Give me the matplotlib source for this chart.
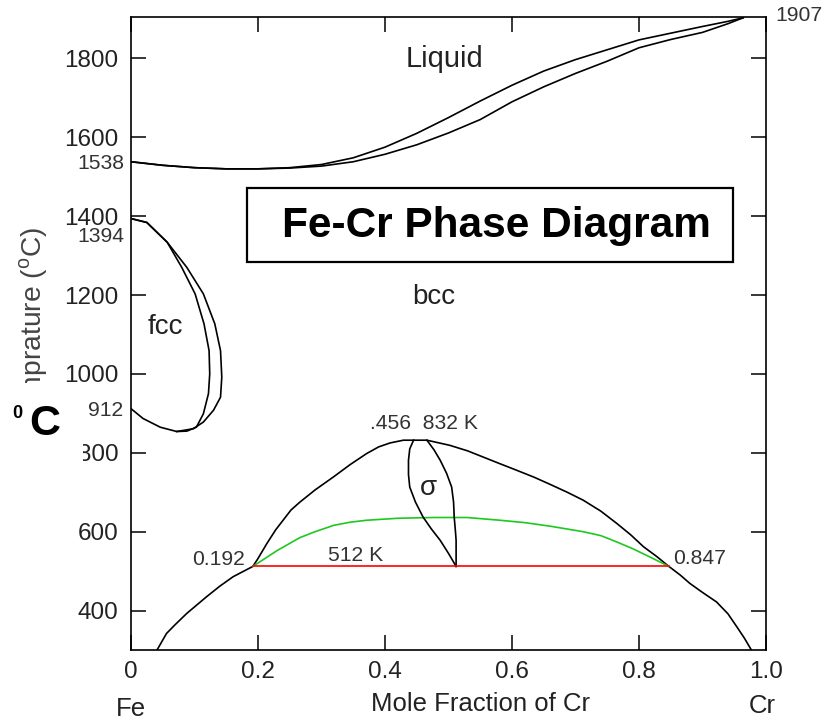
import matplotlib
matplotlib.use('Agg')
import matplotlib.pyplot as plt
from matplotlib.patches import Rectangle

plt.rcParams['font.family'] = ['Liberation Sans', 'DejaVu Sans']
plt.rcParams['mathtext.fontset'] = 'custom'
plt.rcParams['mathtext.rm'] = 'Liberation Sans'
plt.rcParams['mathtext.bf'] = 'Liberation Sans:bold'

# liquidus / solidus (upper region)
liq_x = [0, 0.05, 0.1, 0.15, 0.2, 0.25, 0.3, 0.35, 0.4, 0.45, 0.5, 0.55, 0.6, 0.65,
         0.7, 0.75, 0.8, 0.85, 0.9, 0.94, 0.964]
liq_T = [1538, 1529, 1523, 1520, 1520, 1523, 1531, 1548, 1575, 1610, 1650, 1692, 1732, 1768,
         1797, 1822, 1847, 1864, 1881, 1894, 1903]
sol_T = [1538, 1529, 1523, 1520, 1520, 1522, 1527, 1538, 1557, 1581, 1611, 1645, 1690, 1728,
         1762, 1793, 1827, 1848, 1866, 1888, 1903]

# gamma loop, outer and inner boundary
fcc_out_x = [0, 0.025, 0.057, 0.088, 0.114, 0.132, 0.141, 0.143, 0.141, 0.130, 0.114, 0.098, 0.072, 0.046, 0.019, 0]
fcc_out_T = [1394, 1384, 1334, 1270, 1203, 1127, 1059, 992, 941, 908, 878, 861, 854, 865, 887, 912]
fcc_in_x = [0, 0.025, 0.057, 0.080, 0.101, 0.115, 0.123, 0.124, 0.122, 0.114, 0.103, 0.088, 0.072]
fcc_in_T = [1394, 1384, 1334, 1270, 1203, 1127, 1059, 1000, 950, 899, 865, 855, 854]

# bcc / sigma dome
dome_x = [0.041, 0.056, 0.07, 0.088, 0.119, 0.14, 0.161, 0.192, 0.2, 0.214, 0.228, 0.24, 0.252,
          0.266, 0.29, 0.319, 0.345, 0.371, 0.39, 0.408, 0.429, 0.466, 0.502, 0.53, 0.555,
          0.58, 0.607, 0.635, 0.66, 0.687, 0.712, 0.74, 0.765, 0.787, 0.807, 0.828, 0.847,
          0.865, 0.88, 0.9, 0.922, 0.94, 0.954, 0.966, 0.977]
dome_T = [300, 342, 365, 393, 435, 462, 486, 512, 532, 570, 605, 630, 655,
          675, 706, 739, 770, 798, 815, 825, 832, 832, 819, 805, 789,
          773, 756, 738, 720, 700, 680, 652, 621, 592, 562, 537, 512,
          490, 469, 446, 422, 392, 359, 330, 300]

# green boundary
green_x = [0.192, 0.23, 0.266, 0.29, 0.319, 0.345, 0.371, 0.42, 0.476, 0.529, 0.581, 0.62,
           0.66, 0.712, 0.74, 0.765, 0.79, 0.817, 0.847]
green_T = [512, 552, 585, 600, 616, 624, 629, 634, 636, 636, 629, 623,
           614, 600, 590, 574, 557, 536, 512]

# sigma lens
sig_l_x = [0.445, 0.439, 0.437, 0.437, 0.439, 0.448, 0.46, 0.473, 0.487, 0.5, 0.512]
sig_l_T = [832, 810, 781, 745, 713, 675, 637, 607, 578, 545, 512]
sig_r_x = [0.466, 0.477, 0.487, 0.497, 0.505, 0.508, 0.509, 0.511, 0.512, 0.512]
sig_r_T = [832, 808, 781, 748, 713, 675, 637, 600, 578, 512]

eutectoid_x = [0.192, 0.847]
eutectoid_T = [512, 512]

xticks = [0, 0.2, 0.4, 0.6, 0.8, 1.0]
xtick_labels = ['0', '0.2', '0.4', '0.6', '0.8', '1.0']
yticks = [400, 600, 800, 1000, 1200, 1400, 1600, 1800]

fig = plt.figure(figsize=(8.29, 7.24), dpi=100)
ax = fig.add_axes([0.158, 0.1022, 0.766, 0.8743])

lw = 1.2
ax.plot(liq_x, liq_T, color='black', lw=lw)
ax.plot(liq_x, sol_T, color='black', lw=lw)
ax.plot(fcc_out_x, fcc_out_T, color='black', lw=lw)
ax.plot(fcc_in_x, fcc_in_T, color='black', lw=lw)
ax.plot(dome_x, dome_T, color='black', lw=lw)
ax.plot(green_x, green_T, color='#1ec81e', lw=lw)
ax.plot(sig_l_x, sig_l_T, color='black', lw=lw)
ax.plot(sig_r_x, sig_r_T, color='black', lw=lw)
ax.plot(eutectoid_x, eutectoid_T, color='red', lw=lw)

ax.set_xlim(0, 1.0)
ax.set_ylim(300, 1905)
ax.set_xticks(xticks)
ax.set_xticklabels(xtick_labels)
ax.set_yticks(yticks)
ax.tick_params(direction='in', length=11, width=1.1, top=True, right=True,
               labelsize=17.5, labelcolor='#222222')
ax.tick_params(axis='x', pad=8)
ax.tick_params(axis='y', pad=9)
for s in ax.spines.values():
    s.set_linewidth(1.2)

# phase labels
ax.text(0.493, 1799, 'Liquid', fontsize=21, ha='center', va='center', color='#222222')
ax.text(0.477, 1196, 'bcc', fontsize=20, ha='center', va='center', color='#222222')
ax.text(0.054, 1118, 'fcc', fontsize=20, ha='center', va='center', color='#222222')
ax.text(0.469, 712, 'σ', fontsize=20, ha='center', va='center', color='#222222')

# point annotations
small = dict(fontsize=15.2, color='#333333', clip_on=False)
ax.text(0.376, 875, '.456  832 K', ha='left', va='center', **small)
ax.text(0.353, 540, '512 K', ha='center', va='center', **small)
ax.text(0.180, 530, '0.192', ha='right', va='center', **small)
ax.text(0.854, 533, '0.847', ha='left', va='center', **small)
ax.text(-0.01, 1533, '1538', ha='right', va='center', **small)
ax.text(-0.011, 1348, '1394', ha='right', va='center', **small)
ax.text(-0.012, 907, '912', ha='right', va='center', **small)
ax.text(1.014, 1908, '1907', ha='left', va='center', **small)

# axis labels
ax.text(0.55, 163, 'Mole Fraction of Cr', fontsize=18.5, ha='center', va='center',
        color='#222222', clip_on=False)
ax.text(0.0, 150, 'Fe', fontsize=18.5, ha='center', va='center', color='#222222', clip_on=False)
ax.text(0.994, 158, 'Cr', fontsize=18.5, ha='center', va='center', color='#222222', clip_on=False)
ax.set_ylabel(r'Temprature ($^{\mathrm{o}}$C)', fontsize=20.3, color='#444444')
ax.yaxis.set_label_coords(-0.128, 0.506)

# title box
fig.patches.append(Rectangle((247 / 829, 1 - 262 / 724), 486 / 829, 74 / 724,
                             transform=fig.transFigure, fill=False, lw=1.6,
                             edgecolor='black', zorder=5))
fig.text(496 / 829, 1 - 226 / 724, 'Fe-Cr Phase Diagram', fontsize=30.5, fontweight='bold',
         ha='center', va='center', zorder=6)

# white patch with the big unit label
fig.patches.append(Rectangle((0, 1 - 465 / 724), 83 / 829, 82 / 724,
                             transform=fig.transFigure, facecolor='white',
                             edgecolor='none', zorder=5))
fig.text(17.5 / 829, 1 - 413.5 / 724, '0', fontsize=13, fontweight='bold',
         ha='center', va='center', zorder=6)
fig.text(45 / 829, 1 - 424 / 724, 'C', fontsize=31, fontweight='bold',
         ha='center', va='center', zorder=6)

fig.savefig('out.png', dpi=100)
